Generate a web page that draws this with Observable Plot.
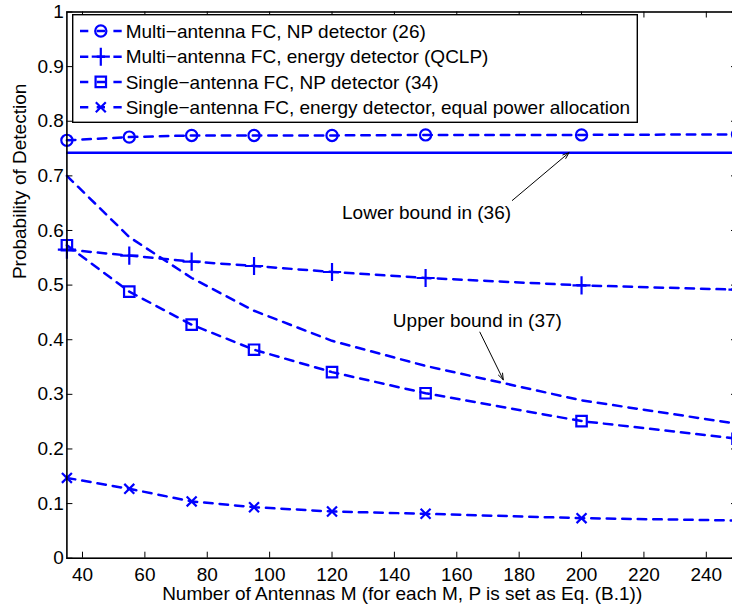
<!DOCTYPE html>
<html><head><meta charset="utf-8">
<script src="https://cdn.jsdelivr.net/npm/d3@7"></script>
<script src="https://cdn.jsdelivr.net/npm/@observablehq/plot@0.6"></script>
<style>
html,body{margin:0;padding:0;background:#fff;}
#wrap{position:relative;width:732px;height:613px;overflow:hidden;}
#wrap svg{overflow:hidden;display:block;}
#legend{position:absolute;left:0;top:0;}
</style></head>
<body><div id="wrap"></div>
<script>
// ---- data ----
const M = [35, 55, 75, 95, 120, 150, 200, 250];
const multiNP   = [0.765, 0.771, 0.774, 0.774, 0.774, 0.775, 0.775, 0.776];
const multiED   = [0.565, 0.554, 0.543, 0.535, 0.524, 0.513, 0.4995, 0.4916];
const singleNP  = [0.573, 0.488, 0.4275, 0.3817, 0.3407, 0.302, 0.251, 0.2187];
const singleED  = [0.147, 0.127, 0.104, 0.0934, 0.0855, 0.0813, 0.0733, 0.069];
const upperBound = [0.700, 0.588, 0.513, 0.453, 0.398, 0.352, 0.289, 0.246];
const lowerBound = [0.7425];
const seriesNames = [
  "Multi\u2212antenna FC, NP detector (26)",
  "Multi\u2212antenna FC, energy detector (QCLP)",
  "Single\u2212antenna FC, NP detector (34)",
  "Single\u2212antenna FC, energy detector, equal power allocation"
];
const seriesSymbols = ["circle", "plus", "square", "times"];
const xTicks = [40, 60, 80, 100, 120, 140, 160, 180, 200, 220, 240];
const yTicks = [0, 0.1, 0.2, 0.3, 0.4, 0.5, 0.6, 0.7, 0.8, 0.9, 1];
const yTickLabels = ["0", "0.1", "0.2", "0.3", "0.4", "0.5", "0.6", "0.7", "0.8", "0.9", "1"];
const xLabel = "Number of Antennas M (for each M, P is set as Eq. (B.1))";
const yLabel = "Probability of Detection";
const annotations = [
  {label: "Lower bound in (36)", x: 150.3, y: 0.6315, ax1: 177.8, ay1: 0.655, ax2: 196, ay2: 0.7425},
  {label: "Upper bound in (37)", x: 166.6, y: 0.4337, ax1: 167.4, ay1: 0.4139, ax2: 174.9, ay2: 0.3267}
];

// ---- build tables ----
const seriesValues = [multiNP, multiED, singleNP, singleED];
const markerRows = seriesValues.map((vals, i) => M.map((m, j) => ({M: m, v: vals[j], s: seriesNames[i]})));
const lineRows = markerRows.flat().concat(M.map((m, j) => ({M: m, v: upperBound[j], s: "upper"})));

const FONT = "'Liberation Sans', Arial, Helvetica, sans-serif";
const FS = 19;
const BLUE = "#0000ff";
const LW = 2.5;
const W = 732, H = 613;
const mL = 66.4, mR = -5, mT = 11.5, mB = 55.3;
const fw = W - mL - mR, fh = H - mT - mB;
const symR = {circle: 5.6, plus: 5.9, square: 5.9, times: 4.6};

const dotMarks = markerRows.map((rows, i) => Plot.dot(rows, {
  x: "M", y: "v", symbol: () => seriesSymbols[i], r: symR[seriesSymbols[i]],
  stroke: BLUE, fill: "none", strokeWidth: 2.2
}));

const chart = Plot.plot({
  width: W, height: H,
  marginLeft: mL, marginRight: mR, marginTop: mT, marginBottom: mB,
  style: {fontFamily: FONT, fontSize: FS + "px", color: "#000", background: "#fff", overflow: "hidden"},
  x: {domain: [35, 250]},
  y: {domain: [0, 1]},
  symbol: {type: "identity"},
  marks: [
    Plot.ruleY(lowerBound, {stroke: BLUE, strokeWidth: LW}),
    Plot.line(lineRows, {x: "M", y: "v", z: "s", stroke: BLUE, strokeWidth: LW, strokeDasharray: "8.5,7"}),
    ...dotMarks,
    // inward ticks
    Plot.tickX(xTicks, {x: d => d, insetTop: fh - 6, stroke: "#000", strokeWidth: 1}),
    Plot.tickX(xTicks, {x: d => d, insetBottom: fh - 6, stroke: "#000", strokeWidth: 1}),
    Plot.tickY(yTicks, {y: d => d, insetRight: fw - 6, stroke: "#000", strokeWidth: 1}),
    Plot.tickY(yTicks, {y: d => d, insetLeft: fw - 6, stroke: "#000", strokeWidth: 1}),
    Plot.frame({stroke: "#000", strokeWidth: 1.6}),
    Plot.axisX(xTicks, {tickSize: 0, tickPadding: 8.8, fontSize: FS, tickFormat: d => String(d), label: null}),
    Plot.axisY(yTicks, {tickSize: 0, tickPadding: 3, fontSize: FS, tickFormat: (d, i) => yTickLabels[i], label: null}),
    Plot.text([xLabel], {text: d => d, frameAnchor: "bottom", dy: 42, lineAnchor: "bottom", fontSize: FS, fill: "#000"}),
    Plot.text([yLabel], {text: d => d, frameAnchor: "left", rotate: -90, dx: 25 - mL, dy: -6, lineAnchor: "bottom", fontSize: FS, fill: "#000"}),
    Plot.text(annotations, {x: "x", y: "y", text: "label", fontSize: FS, fill: "#000"}),
    Plot.arrow(annotations, {x1: "ax1", y1: "ay1", x2: "ax2", y2: "ay2", stroke: "#000", strokeWidth: 1, headLength: 10, headAngle: 40})
  ]
});
const wrap = document.getElementById("wrap");
wrap.appendChild(chart);

// ---- legend (inside plot, top-left) ----
const lg = d3.select(wrap).append("svg").attr("id", "legend")
  .attr("width", W).attr("height", 140)
  .style("font-family", FONT).style("font-size", FS + "px");
const bx = 72.7, by = 14.7, bw = 564.6, bh = 107.6;
lg.append("rect").attr("x", bx).attr("y", by).attr("width", bw).attr("height", bh)
  .attr("fill", "#fff").attr("stroke", "#000").attr("stroke-width", 1.4);
const rowY = [31, 56.7, 81.9, 107.3];
seriesNames.forEach((name, i) => {
  const g = lg.append("g").attr("transform", `translate(0,${rowY[i]})`);
  g.append("line").attr("x1", 80).attr("x2", 121.7).attr("y1", 0).attr("y2", 0)
    .attr("stroke", BLUE).attr("stroke-width", LW).attr("stroke-dasharray", "8.3,8.4");
  const sym = {circle: d3.symbolCircle, plus: d3.symbolPlus, square: d3.symbolSquare, times: d3.symbolTimes}[seriesSymbols[i]];
  const r = symR[seriesSymbols[i]];
  g.append("path").attr("transform", "translate(100.8,0)")
    .attr("d", d3.symbol(sym, Math.PI * r * r)())
    .attr("fill", "none").attr("stroke", BLUE).attr("stroke-width", 2.2);
  g.append("text").attr("x", 125.7).attr("y", 0).attr("dy", "0.35em").attr("fill", "#000").text(name);
});
</script></body></html>
